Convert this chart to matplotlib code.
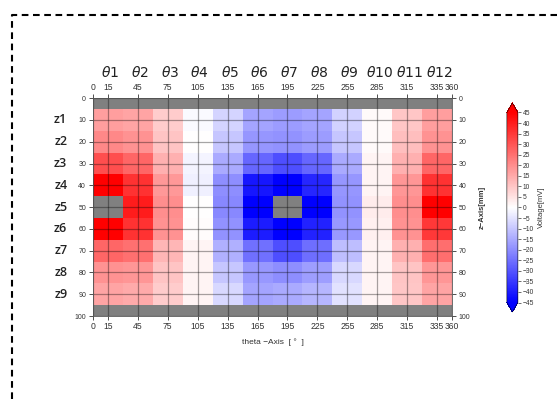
import matplotlib
matplotlib.use('agg')
import matplotlib.pyplot as plt
import matplotlib.lines as mlines
import numpy as np

# measured voltages [mV], rows z1..z9, columns theta1..theta12 (nan = no data)
theta_labels = [r'$\theta$1', r'$\theta$2', r'$\theta$3', r'$\theta$4', r'$\theta$5', r'$\theta$6',
                r'$\theta$7', r'$\theta$8', r'$\theta$9', r'$\theta$10', r'$\theta$11', r'$\theta$12']
z_labels = ['z1', 'z2', 'z3', 'z4', 'z5', 'z6', 'z7', 'z8', 'z9']
theta_edges = [0, 30, 60, 90, 120, 150, 180, 210, 240, 270, 300, 330, 360]
z_edges = [5, 15, 25, 35, 45, 55, 65, 75, 85, 95]
voltage = np.array([
    [17, 16, 9, -1, -7.5, -16, -17.5, -16, -8, 1, 10, 17],
    [21, 19, 10.5, 0, -10, -18.5, -19, -17.5, -10, 1, 11.5, 19],
    [31, 27, 14, -2, -15, -27, -31, -27, -15, 2, 14, 27],
    [46, 36, 18, -2.5, -20, -41, -46, -38, -18.5, 2, 18.5, 36],
    [np.nan, 40, 20, 0, -21, -46, np.nan, -46, -19, 3.5, 20, 46],
    [46, 36, 19, 0.5, -19, -40, -46, -39, -18, 2.5, 19, 35],
    [27, 25, 13, 2, -14, -25, -31, -25.5, -11.5, 2, 14, 25.5],
    [19, 18.5, 10.5, 2, -10, -18, -20, -17, -7, 2, 10.5, 18.5],
    [16, 15, 9, 2, -7, -16, -15, -13, -5, 2, 10, 16],
])
x_ticks = [0, 15, 45, 75, 105, 135, 165, 195, 225, 255, 285, 315, 345, 360]
x_ticklabels = ['0', '15', '45', '75', '105', '135', '165', '195', '225', '255',
                '285', '315', '335', '360']
y_ticks = [0, 10, 20, 30, 40, 50, 60, 70, 80, 90, 100]
cbar_ticks = list(range(-45, 50, 5))

fig = plt.figure(figsize=(5.57, 3.99), dpi=100)
ax = fig.add_axes([0.167, 0.208, 0.6445, 0.546])
ax.set_facecolor('#808080')

cmap = plt.get_cmap('bwr').copy()
cmap.set_bad('#808080')
mesh = ax.pcolormesh(theta_edges, z_edges, np.ma.masked_invalid(voltage),
                     cmap=cmap, vmin=-45, vmax=45)

ax.set_xlim(0, 360)
ax.set_ylim(100, 0)
ax.set_xticks(x_ticks)
ax.set_xticklabels(x_ticklabels, fontsize=6.2, color='#333333', family='Liberation Sans')
ax.set_yticks(y_ticks)
ax.set_yticklabels([str(v) for v in y_ticks], family='Liberation Sans')
ax.tick_params(axis='y', labelsize=5, length=3, width=0.6, colors='#333333',
               left=True, right=True, labelleft=True, labelright=True, pad=2)
ax.tick_params(axis='x', length=3, width=0.6, colors='#333333',
               top=True, bottom=True, labeltop=True, labelbottom=True, pad=1.5)
ax.grid(True, color='black', alpha=0.35, linewidth=0.9)
for s in ax.spines.values():
    s.set_linewidth(0.6)
    s.set_color('#555555')

ax.set_xlabel('theta \u2212Axis  [ \u00b0  ]', fontsize=6, color='#333333', labelpad=5,
              family='Liberation Sans')
ax.yaxis.set_label_position('right')
ax.set_ylabel('z\u2212Axis[mm]', fontsize=5.5, color='#333333', fontweight='bold',
              labelpad=6, family='Liberation Sans')

# theta labels above the column centres, z labels left of the row centres
for k, lab in enumerate(theta_labels):
    ax.text(15 + 30 * k + 2, 1.118, lab, transform=ax.get_xaxis_transform(),
            ha='center', va='center', fontsize=10, color='#222222')
for k, lab in enumerate(z_labels):
    ax.text(-0.09, 10 + 10 * k, lab, transform=ax.get_yaxis_transform(),
            ha='center', va='center', fontsize=9, color='#222222', family='Open Sans',
            fontweight='semibold')

cax = fig.add_axes([0.910, 0.218, 0.0198, 0.524])
cb = fig.colorbar(mesh, cax=cax, extend='both', ticks=cbar_ticks)
cb.ax.tick_params(labelsize=4.8, length=2, width=0.5, colors='#333333', pad=1.5)
for t in cb.ax.get_yticklabels():
    t.set_family('Liberation Sans')
cb.outline.set_linewidth(0.4)
cb.set_label('Voltage[mV]', fontsize=5.5, color='#333333', labelpad=3, family='Liberation Sans')

# dashed frame of the page
frame = mlines.Line2D([12 / 557, 12 / 557, 1.0], [0.0, 1 - 15 / 399, 1 - 15 / 399],
                      transform=fig.transFigure, color='black', linewidth=1.5,
                      linestyle=(0, (3.2, 2.2)))
fig.lines.append(frame)

fig.savefig('out.png', dpi=100)
